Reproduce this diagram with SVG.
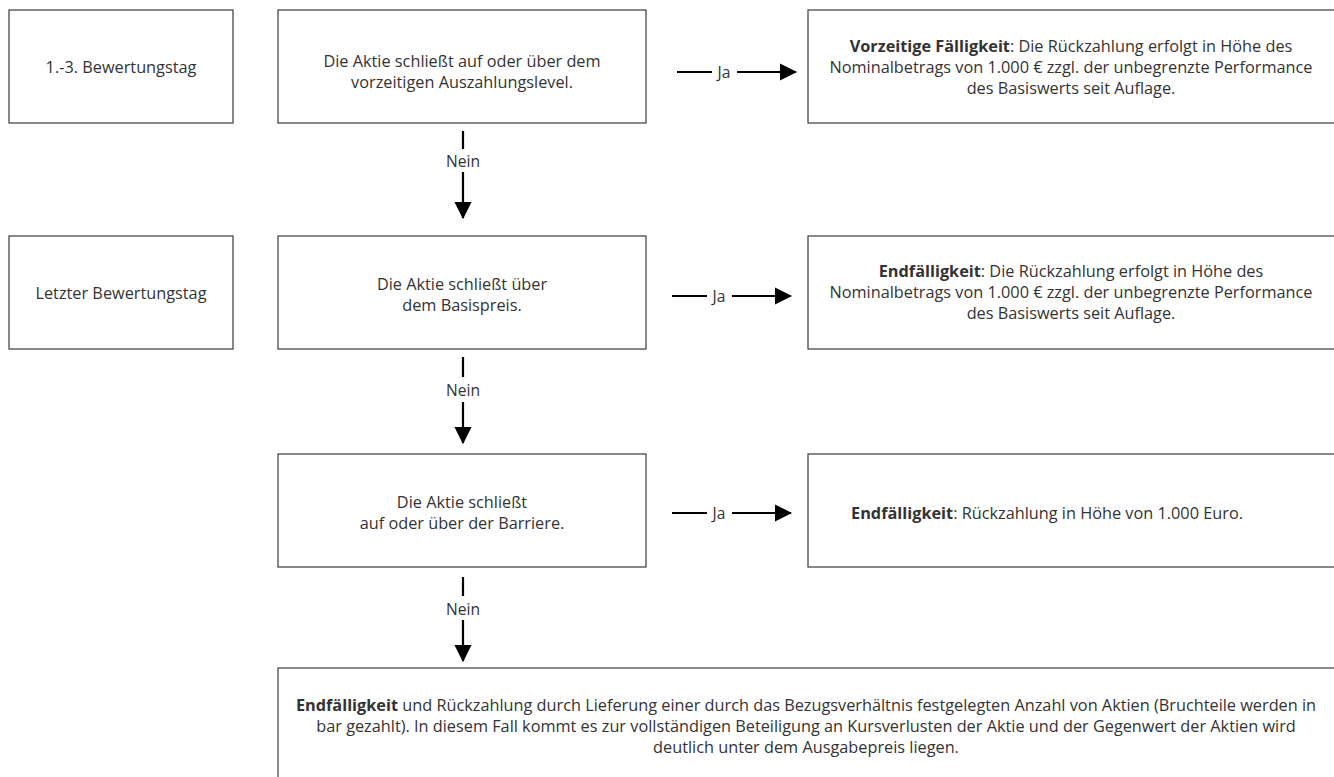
<svg xmlns="http://www.w3.org/2000/svg" width="1334" height="777" viewBox="0 0 1334 777">
<style>
.box{fill:#fff;stroke:#3a3a3a;stroke-width:1.2}
.t{font-family:"Open Sans","Noto Sans","Liberation Sans",sans-serif;font-size:16.3px;fill:#333;text-anchor:middle;dominant-baseline:central}
.b{font-weight:bold}
.c{stroke:#000;stroke-width:2.2;fill:none}
.lbl{font-family:"Open Sans","Noto Sans","Liberation Sans",sans-serif;font-size:15.6px;fill:#333;text-anchor:middle;dominant-baseline:central}
</style>
<defs>
<marker id="ah" markerWidth="8" markerHeight="8" refX="7.5" refY="4" orient="auto" markerUnits="strokeWidth"><path d="M0,0 L8,4 L0,8 Z" fill="#000"/></marker>
</defs>
<rect width="1334" height="777" fill="#fff"/>
<g id="n-day13"><rect class="box" x="9" y="10" width="224" height="113"/><text class="t" x="121" y="67">1.-3. Bewertungstag</text></g>
<g id="n-q1"><rect class="box" x="278" y="10" width="368" height="113"/><text class="t" x="462" y="61">Die Aktie schließt auf oder über dem</text><text class="t" x="462" y="82">vorzeitigen Auszahlungslevel.</text></g>
<g id="n-r1"><rect class="box" x="808" y="10" width="540" height="113"/><text class="t" x="1071" y="46"><tspan class="b">Vorzeitige Fälligkeit</tspan>: Die Rückzahlung erfolgt in Höhe des</text><text class="t" x="1071" y="67">Nominalbetrags von 1.000 € zzgl. der unbegrenzte Performance</text><text class="t" x="1071" y="88">des Basiswerts seit Auflage.</text></g>
<g id="n-day-last"><rect class="box" x="9" y="236" width="224" height="113"/><text class="t" x="121" y="293">Letzter Bewertungstag</text></g>
<g id="n-q2"><rect class="box" x="278" y="236" width="368" height="113"/><text class="t" x="462" y="284">Die Aktie schließt über</text><text class="t" x="462" y="305">dem Basispreis.</text></g>
<g id="n-r2"><rect class="box" x="808" y="236" width="540" height="113"/><text class="t" x="1071" y="271"><tspan class="b">Endfälligkeit</tspan>: Die Rückzahlung erfolgt in Höhe des</text><text class="t" x="1071" y="292">Nominalbetrags von 1.000 € zzgl. der unbegrenzte Performance</text><text class="t" x="1071" y="313">des Basiswerts seit Auflage.</text></g>
<g id="n-q3"><rect class="box" x="278" y="454" width="368" height="113"/><text class="t" x="462" y="502">Die Aktie schließt</text><text class="t" x="462" y="523">auf oder über der Barriere.</text></g>
<g id="n-r3"><rect class="box" x="808" y="454" width="540" height="113"/><text class="t" x="1047" y="513"><tspan class="b">Endfälligkeit</tspan>: Rückzahlung in Höhe von 1.000 Euro.</text></g>
<g id="n-final"><rect class="box" x="278" y="668" width="1070" height="120"/><text class="t" x="806" y="705"><tspan class="b">Endfälligkeit</tspan> und Rückzahlung durch Lieferung einer durch das Bezugsverhältnis festgelegten Anzahl von Aktien (Bruchteile werden in</text><text class="t" x="806" y="726">bar gezahlt). In diesem Fall kommt es zur vollständigen Beteiligung an Kursverlusten der Aktie und der Gegenwert der Aktien wird</text><text class="t" x="806" y="747">deutlich unter dem Ausgabepreis liegen.</text></g>
<g id="connectors">
<line class="c" x1="677" y1="72" x2="712" y2="72"/><line class="c" x1="737" y1="72" x2="796" y2="72" marker-end="url(#ah)"/><text class="lbl" x="724" y="72">Ja</text>
<line class="c" x1="672" y1="296" x2="707" y2="296"/><line class="c" x1="732" y1="296" x2="791" y2="296" marker-end="url(#ah)"/><text class="lbl" x="719" y="296">Ja</text>
<line class="c" x1="672" y1="513" x2="707" y2="513"/><line class="c" x1="732" y1="513" x2="791" y2="513" marker-end="url(#ah)"/><text class="lbl" x="719" y="513">Ja</text>
<line class="c" x1="463" y1="131" x2="463" y2="149"/><line class="c" x1="463" y1="172" x2="463" y2="218" marker-end="url(#ah)"/><text class="lbl" x="463" y="161">Nein</text>
<line class="c" x1="463" y1="357" x2="463" y2="377"/><line class="c" x1="463" y1="402" x2="463" y2="443" marker-end="url(#ah)"/><text class="lbl" x="463" y="390">Nein</text>
<line class="c" x1="463" y1="577" x2="463" y2="596"/><line class="c" x1="463" y1="620" x2="463" y2="661" marker-end="url(#ah)"/><text class="lbl" x="463" y="609">Nein</text>
</g>
</svg>
